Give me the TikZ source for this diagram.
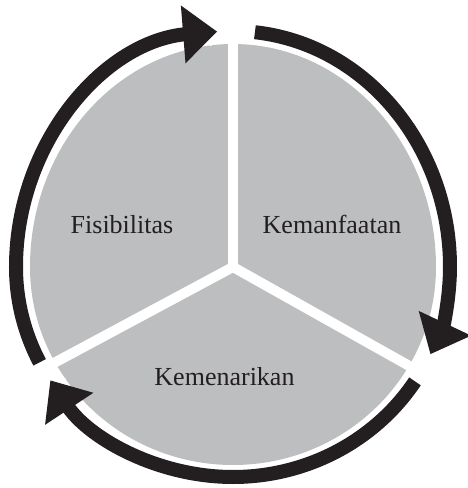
\documentclass[tikz,border=0pt]{standalone}
\usepackage{fontspec}
\setmainfont{Liberation Serif}
\usetikzlibrary{decorations.markings}
\definecolor{inkblack}{HTML}{231F20}
\definecolor{sectorgray}{HTML}{BCBEC0}
\tikzset{
  divider/.style={draw=white, line width=10pt},
  sectortext/.style={anchor=base, text=inkblack, font=\fontsize{26}{30}\selectfont},
  ringarc/.style={draw=inkblack, line width=14pt, shorten >=30pt,
    postaction={decorate, decoration={markings, mark=at position 0.9999 with {
      \draw[white, line width=12pt, line join=round] (-34pt,29pt) -- (0pt,0pt) -- (-34pt,-29pt);
      \fill[inkblack] (0pt,0pt) -- (-34pt,29pt) -- (-34pt,-29pt) -- cycle;}}}}
}
\begin{document}
\begin{tikzpicture}[x=1pt,y=1pt]
  \useasboundingbox (-233,-221) rectangle (234,267);
  \coordinate (hub) at (0,0);
  % gray disc: taller upper half, flatter lower half
  \fill[sectorgray] (203pt,0pt)
    arc[start angle=0, end angle=180, x radius=203pt, y radius=223pt]
    arc[start angle=180, end angle=360, x radius=203pt, y radius=198pt] -- cycle;
  % white dividers between the three sectors
  \draw[divider] (hub) -- ++(90:228pt);
  \draw[divider] (hub) -- ++(208.2:228pt);
  \draw[divider] (hub) -- ++(330.7:228pt);
  % sector labels
  \node[sectortext] (fis) at (-111,34) {Fisibilitas};
  \node[sectortext] (kem) at (99,34) {Kemanfaatan};
  \node[sectortext] (mnr) at (-8.5,-118) {Kemenarikan};
  % clockwise arrows round the disc
  \draw[ringarc] (207:217pt and 210pt)
    arc[start angle=207, end angle=180, x radius=217pt, y radius=210pt]
    arc[start angle=180, end angle=94.2, x radius=217pt, y radius=236pt];
  \draw[ringarc] (84.2:217pt and 236pt)
    arc[start angle=84.2, end angle=0, x radius=217pt, y radius=236pt]
    arc[start angle=0, end angle=-24.5, x radius=217pt, y radius=210pt];
  \draw[ringarc] (-33:217pt and 210pt)
    arc[start angle=-33, end angle=-147.3, x radius=217pt, y radius=210pt];
\end{tikzpicture}
\end{document}
